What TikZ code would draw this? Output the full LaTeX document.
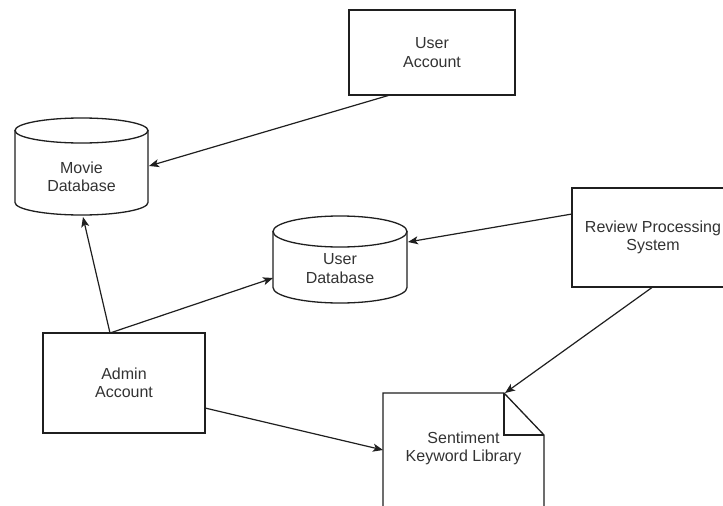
\documentclass[tikz,border=0pt]{standalone}
\usepackage{fontspec}
\setmainfont{Liberation Sans}
\usetikzlibrary{arrows.meta,calc}
\begin{document}
\begin{tikzpicture}[x=1pt,y=-1pt,
  shapeline/.style={draw=black!88, line width=1.3pt, fill=white},
  txt/.style={align=center, inner sep=0pt, text=black!80, font=\fontsize{16}{18.5}\selectfont},
  box/.style={shapeline, txt},
  conn/.style={draw=black!88, line width=1.2pt, -{Stealth[length=10pt,width=8pt,inset=2.5pt]}}]
\clip (0,0) rectangle (723,506);
\fill[white] (0,0) rectangle (723,506);

% boxes
\node[box, minimum width=166pt, minimum height=85pt] (ua) at (432,52.5) {User\\Account};
\node[box, minimum width=162pt, minimum height=100pt] (ad) at (124,383) {Admin\\Account};
\node[box, minimum width=162pt, minimum height=99pt] (rps) at (653,237.5) {Review Processing\\System};

% Movie Database cylinder
\path[shapeline] (15,130.5) -- (15,202.5) arc[start angle=180,end angle=0,x radius=66.5,y radius=12.5] -- (148,130.5) -- cycle;
\draw[shapeline] (81.5,130.5) ellipse [x radius=66.5, y radius=12.5];
\node[txt] (mdb) at (81.5,177) {Movie\\Database};

% User Database cylinder
\path[shapeline] (273,231.5) -- (273,287.5) arc[start angle=180,end angle=0,x radius=67,y radius=15.5] -- (407,231.5) -- cycle;
\draw[shapeline] (340,231.5) ellipse [x radius=67, y radius=15.5];
\node[txt] (udb) at (340,268.5) {User\\Database};

% Sentiment Keyword Library document
\draw[shapeline, line join=miter] (383,393) -- (504,393) -- (544,435) -- (544,520) -- (383,520) -- cycle;
\draw[draw=black!88, line width=1.3pt] (504,393) -- (504,435) -- (544,435);
\node[txt] (skl) at (463.5,448.5) {Sentiment\\Keyword Library};

% connector end points on the shapes
\coordinate (uaS) at (390,95);
\coordinate (mdbE) at (149,166);
\coordinate (mdbS) at (83,217);
\coordinate (adN) at (110,333);
\coordinate (udbW) at (273,278);
\coordinate (udbE) at (408,242);
\coordinate (rpsW) at (572,214);
\coordinate (rpsS) at (652,287.5);
\coordinate (sklN) at (505,393);
\coordinate (adE) at (205,408);
\coordinate (sklW) at (383,450);

\draw[conn] (uaS) -- (mdbE);
\draw[conn] (adN) -- (mdbS);
\draw[conn] (adN) -- (udbW);
\draw[conn] (rpsW) -- (udbE);
\draw[conn] (rpsS) -- (sklN);
\draw[conn] (adE) -- (sklW);
\end{tikzpicture}
\end{document}
